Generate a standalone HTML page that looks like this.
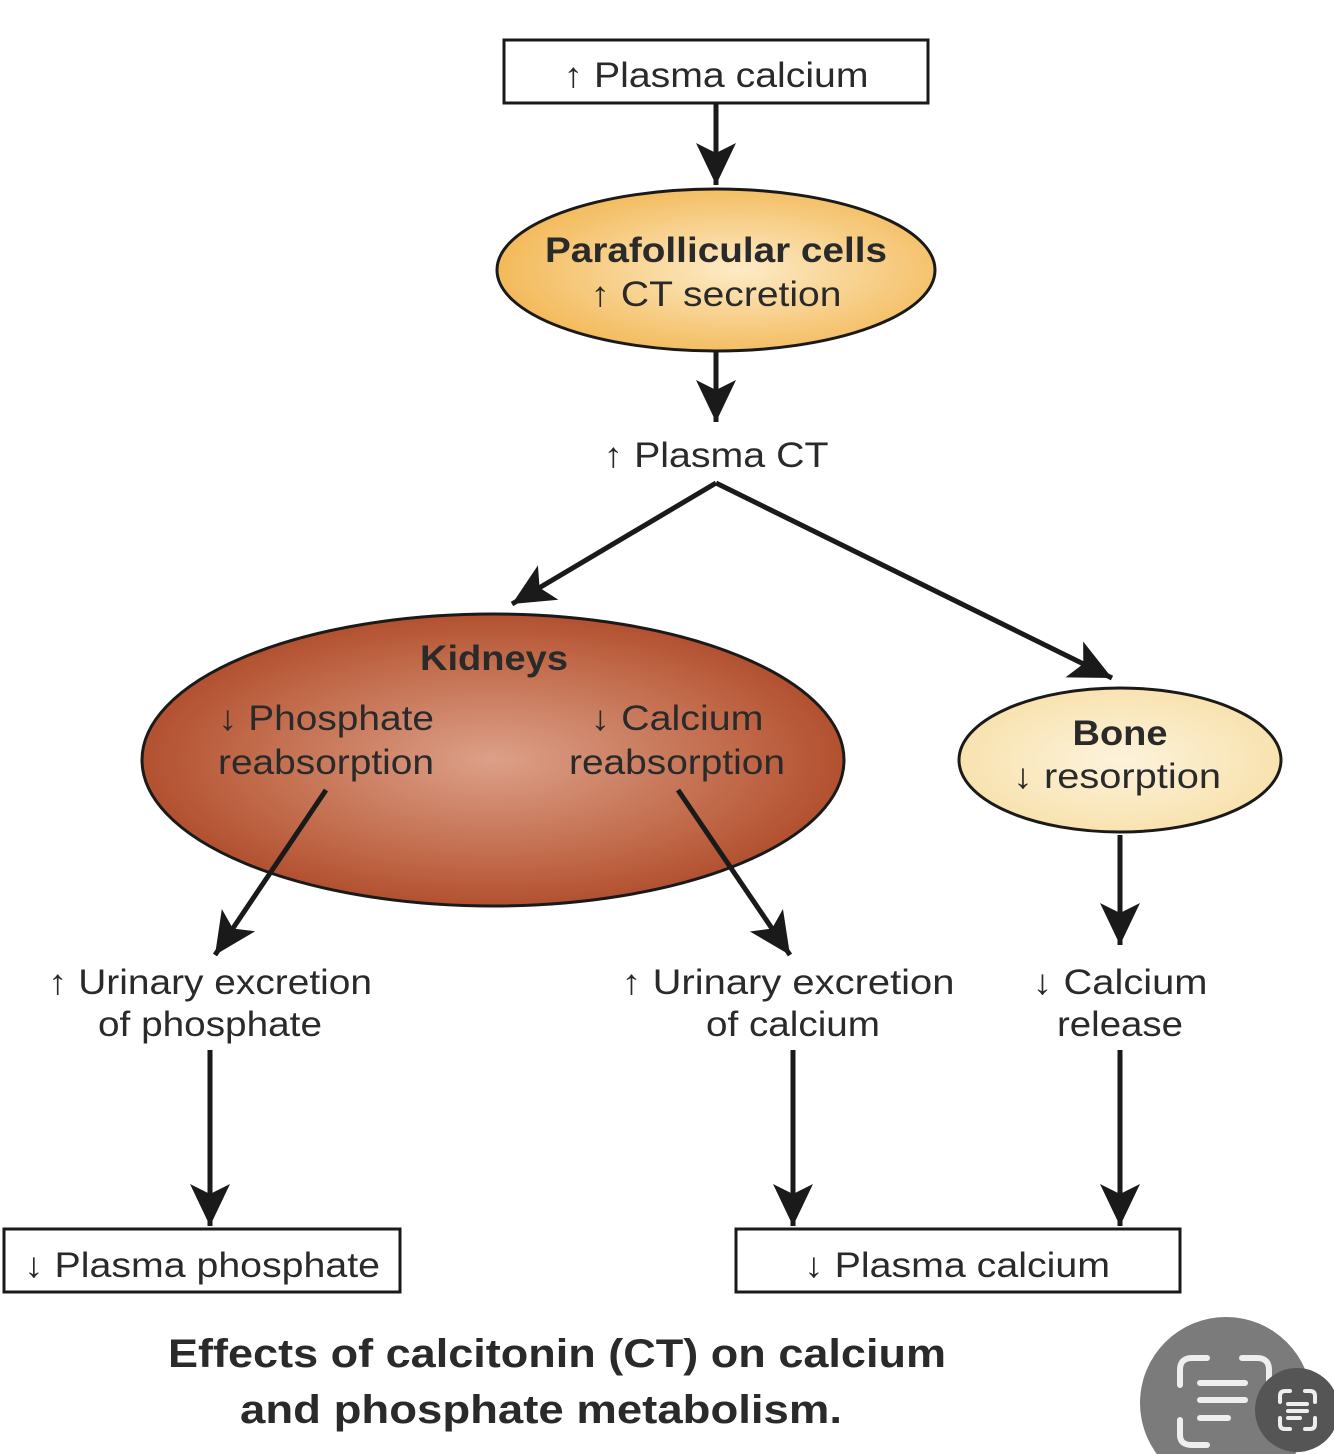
<!DOCTYPE html>
<html><head><meta charset="utf-8"><style>
html,body{margin:0;padding:0;background:#fff;}
svg{display:block;}
text{font-family:"Liberation Sans",Arial,sans-serif;fill:#2a2a2a;}
</style></head><body>
<svg width="1334" height="1454" viewBox="0 0 1334 1454" xmlns="http://www.w3.org/2000/svg">
<defs>
<marker id="ah" markerUnits="userSpaceOnUse" markerWidth="44" markerHeight="46" refX="42" refY="20" orient="auto">
<path d="M0,0 L42,20 L0,40 L10,20 Z" fill="#1a1a1a"/>
</marker>
<radialGradient id="yg" cx="0.55" cy="0.5" r="0.6">
<stop offset="0" stop-color="#fdebc6"/><stop offset="1" stop-color="#f2b550"/>
</radialGradient>
<radialGradient id="rg" cx="0.5" cy="0.5" r="0.6">
<stop offset="0" stop-color="#dca088"/><stop offset="0.6" stop-color="#c06848"/><stop offset="1" stop-color="#a8401f"/>
</radialGradient>
<radialGradient id="bg" cx="0.5" cy="0.5" r="0.6">
<stop offset="0" stop-color="#fdf3dc"/><stop offset="1" stop-color="#f7dfa6"/>
</radialGradient>
</defs>
<g stroke="#1a1a1a" stroke-width="3" fill="#fff">
<rect x="504" y="40" width="424" height="63"/>
<rect x="4" y="1229" width="396" height="63"/>
<rect x="736" y="1229" width="444" height="63"/>
</g>
<ellipse cx="716" cy="270" rx="219" ry="81" fill="url(#yg)" stroke="#1a1a1a" stroke-width="3"/>
<ellipse cx="493" cy="760" rx="351" ry="146" fill="url(#rg)" stroke="#1a1a1a" stroke-width="3"/>
<ellipse cx="1120" cy="760" rx="161" ry="72" fill="url(#bg)" stroke="#1a1a1a" stroke-width="3"/>
<g stroke="#1a1a1a" stroke-width="5" fill="none" marker-end="url(#ah)">
<line x1="716" y1="103" x2="716" y2="185"/>
<line x1="716" y1="352" x2="716" y2="422"/>
<line x1="716" y1="483" x2="512" y2="604"/>
<line x1="716" y1="483" x2="1112" y2="678"/>
<line x1="326" y1="790" x2="215" y2="955"/>
<line x1="678" y1="790" x2="790" y2="955"/>
<line x1="1120" y1="835" x2="1120" y2="945"/>
<line x1="210" y1="1050" x2="210" y2="1226"/>
<line x1="793" y1="1050" x2="793" y2="1226"/>
<line x1="1120" y1="1050" x2="1120" y2="1226"/>
</g>
<g font-size="35" text-anchor="middle" lengthAdjust="spacingAndGlyphs">
<text x="716" y="87" textLength="305" lengthAdjust="spacingAndGlyphs">↑ Plasma calcium</text>
<text x="716" y="262" font-weight="bold" textLength="342" lengthAdjust="spacingAndGlyphs">Parafollicular cells</text>
<text x="716" y="306" textLength="251" lengthAdjust="spacingAndGlyphs">↑ CT secretion</text>
<text x="716" y="467" textLength="225" lengthAdjust="spacingAndGlyphs">↑ Plasma CT</text>
<text x="494" y="670" font-weight="bold" textLength="148" lengthAdjust="spacingAndGlyphs">Kidneys</text>
<text x="326" y="730" textLength="216" lengthAdjust="spacingAndGlyphs">↓ Phosphate</text>
<text x="326" y="774" textLength="216" lengthAdjust="spacingAndGlyphs">reabsorption</text>
<text x="677" y="730" textLength="173" lengthAdjust="spacingAndGlyphs">↓ Calcium</text>
<text x="677" y="774" textLength="216" lengthAdjust="spacingAndGlyphs">reabsorption</text>
<text x="1120" y="745" font-weight="bold" textLength="95" lengthAdjust="spacingAndGlyphs">Bone</text>
<text x="1117" y="788" textLength="208" lengthAdjust="spacingAndGlyphs">↓ resorption</text>
<text x="210" y="994" textLength="324" lengthAdjust="spacingAndGlyphs">↑ Urinary excretion</text>
<text x="210" y="1036" textLength="224" lengthAdjust="spacingAndGlyphs">of phosphate</text>
<text x="788" y="994" textLength="333" lengthAdjust="spacingAndGlyphs">↑ Urinary excretion</text>
<text x="793" y="1036" textLength="174" lengthAdjust="spacingAndGlyphs">of calcium</text>
<text x="1120" y="994" textLength="175" lengthAdjust="spacingAndGlyphs">↓ Calcium</text>
<text x="1120" y="1036" textLength="126" lengthAdjust="spacingAndGlyphs">release</text>
<text x="202" y="1277" textLength="356" lengthAdjust="spacingAndGlyphs">↓ Plasma phosphate</text>
<text x="957" y="1277" textLength="306" lengthAdjust="spacingAndGlyphs">↓ Plasma calcium</text>
</g>
<g font-size="40" font-weight="bold" text-anchor="middle">
<text x="557" y="1367" textLength="778" lengthAdjust="spacingAndGlyphs">Effects of calcitonin (CT) on calcium</text>
<text x="541" y="1423" textLength="602" lengthAdjust="spacingAndGlyphs">and phosphate metabolism.</text>
</g>
<circle cx="1226" cy="1403" r="86" fill="#7b7b7b"/>
<g stroke="#eee" stroke-width="6" fill="none" stroke-linecap="round">
<path d="M1180,1385 v-15 q0,-12 12,-12 h15"/><path d="M1242,1358 h15 q12,0 12,12 v15"/>
<path d="M1180,1420 v15 q0,10 12,10 h15"/>
<line x1="1200" y1="1383" x2="1245" y2="1383"/><line x1="1200" y1="1400" x2="1245" y2="1400"/><line x1="1200" y1="1418" x2="1228" y2="1418"/>
</g>
<circle cx="1297" cy="1410" r="42" fill="#555"/>
<g stroke="#eee" stroke-width="4" fill="none" stroke-linecap="round">
<path d="M1280,1402 v-6 q0,-5 5,-5 h5"/><path d="M1305,1391 h5 q5,0 5,5 v6"/>
<path d="M1280,1418 v6 q0,5 5,5 h5"/><path d="M1305,1429 h5 q5,0 5,-5 v-6"/>
<line x1="1288" y1="1404" x2="1307" y2="1404"/><line x1="1288" y1="1411" x2="1307" y2="1411"/><line x1="1288" y1="1418" x2="1300" y2="1418"/>
</g>
</svg>
</body></html>
